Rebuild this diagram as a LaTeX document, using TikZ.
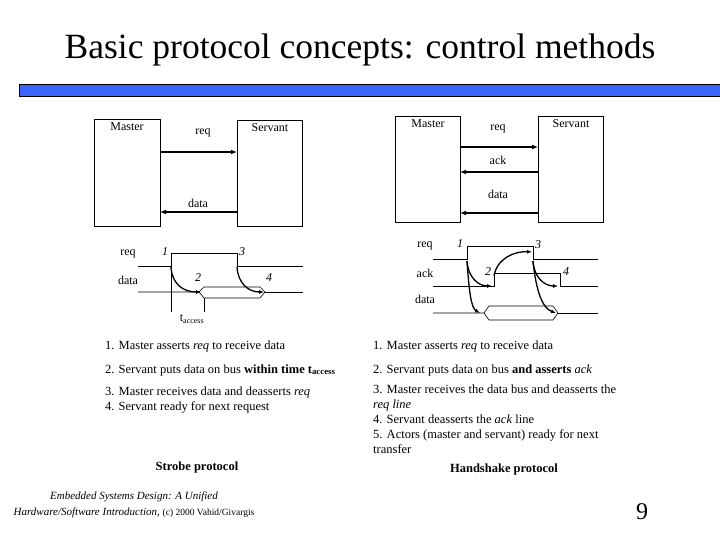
\documentclass[tikz,border=0pt]{standalone}
\usepackage{fontspec}
\setmainfont{Liberation Serif}
\usetikzlibrary{arrows.meta}
\begin{document}
\begin{tikzpicture}[x=1pt,y=-1pt,
  box/.style={draw,thick},
  lbl/.style={inner sep=0pt,font=\fontsize{12}{13}\selectfont},
  num/.style={inner sep=0pt,font=\fontsize{12}{13}\selectfont\itshape},
  sig/.style={draw,line width=0.6pt},
  bus/.style={draw,line width=1.6pt,-{Latex[length=6pt,width=5pt]}},
  carr/.style={draw,line width=1.3pt,-{Latex[length=5pt,width=4pt]}},
  txt/.style={anchor=west,inner sep=0pt,font=\fontsize{12.5}{14}\selectfont},
  ptxt/.style={anchor=north west,inner sep=0pt,align=left,font=\fontsize{12.5}{15}\selectfont}]
\useasboundingbox (0,0) rectangle (720,540);
\node[inner sep=0pt,font=\fontsize{35.5}{38}\selectfont] (title) at (360,50) {Basic protocol concepts: control methods};
\path[draw=black,fill={rgb,255:red,58;green,100;blue,250}] (19,84) rectangle (721,96);
% ---- left block diagram
\draw[box] (94,119) rectangle (160,226);
\draw[box] (237,120) rectangle (302,226);
\coordinate (lm1) at (160,152); \coordinate (ls1) at (237,152);
\coordinate (lm2) at (160,212); \coordinate (ls2) at (237,212);
\node[lbl] (lmaster) at (127,127) {Master};
\node[lbl] (lservant) at (270,128) {Servant};
\node[lbl] (lreq) at (203,133) {req};
\node[lbl] (ldata) at (198,203) {data};
\draw[bus] (lm1) -- (ls1);
\draw[bus] (ls2) -- (lm2);
% left timing
\node[lbl] (treq) at (128,254) {req};
\node[lbl] (tdata) at (128,280) {data};
\node[num] (n1) at (165,252) {1};
\node[num] (n3) at (242,252) {3};
\node[num] (n2) at (198,278) {2};
\node[num] (n4) at (269,278) {4};
\draw[sig] (138,266) -- (171,266) -- (171,253) -- (237,253) -- (237,266) -- (303,266);
\draw[sig] (138,292) -- (199,292) -- (204,287) -- (260,287) -- (265,292) -- (260,298) -- (204,298) -- (199,292);
\draw[sig] (265,292) -- (303,292);
\draw[sig] (171,253) -- (171,312) (204,298) -- (204,312);
\node[inner sep=0pt,font=\fontsize{12}{13}\selectfont] (tacc) at (192,319) {t\textsubscript{access}};
\coordinate (a1) at (171,267); \coordinate (a2) at (201,292);
\coordinate (a3) at (237,267); \coordinate (a4) at (264,292);
\draw[carr] (a1) .. controls (172,283) and (182,292) .. (a2);
\draw[carr] (a3) .. controls (238,283) and (248,292) .. (a4);
% ---- right block diagram
\draw[box] (395,116) rectangle (460,222);
\draw[box] (538,116) rectangle (603,222);
\coordinate (rm1) at (460,147); \coordinate (rs1) at (538,147);
\coordinate (rm2) at (460,172); \coordinate (rs2) at (538,172);
\coordinate (rm3) at (460,213); \coordinate (rs3) at (538,213);
\node[lbl] (rmaster) at (428,124) {Master};
\node[lbl] (rservant) at (571,124) {Servant};
\node[lbl] (rreq) at (498,129) {req};
\node[lbl] (rack) at (498,160) {ack};
\node[lbl] (rdata) at (498,194) {data};
\draw[bus] (rm1) -- (rs1);
\draw[bus] (rs2) -- (rm2);
\draw[bus] (rs3) -- (rm3);
% right timing
\node[lbl] (sreq) at (425,246) {req};
\node[lbl] (sack) at (425,273) {ack};
\node[lbl] (sdata) at (425,299) {data};
\node[num] (m1) at (460,244) {1};
\node[num] (m3) at (538,245) {3};
\node[num] (m2) at (488,272) {2};
\node[num] (m4) at (566,272) {4};
\draw[sig] (433,259) -- (467,259) -- (467,246) -- (533,246) -- (533,259) -- (598,259);
\draw[sig] (433,286) -- (494,286) -- (494,273) -- (560,273) -- (560,286) -- (598,286);
\draw[sig] (433,313) -- (484,313) -- (489,306) -- (553,306) -- (558,313) -- (553,320) -- (489,320) -- (484,313);
\draw[sig] (558,313) -- (598,313);
\coordinate (b1) at (467,261); \coordinate (b2) at (492,286);
\coordinate (b1d) at (480,313);
\coordinate (b2s) at (494,276); \coordinate (b3) at (532,252);
\coordinate (b3s) at (533,261); \coordinate (b4) at (558,286);
\coordinate (b3d) at (556,313);
\draw[carr] (b1) .. controls (468,277) and (478,286) .. (b2);
\draw[carr] (b1) .. controls (469,290) and (471,308) .. (b1d);
\draw[carr] (b2s) .. controls (497,258) and (515,251) .. (b3);
\draw[carr] (b3s) .. controls (534,277) and (544,286) .. (b4);
\draw[carr] (b3s) .. controls (536,290) and (542,308) .. (b3d);
% ---- texts
\node[txt] (l1) at (105,346) {1. Master asserts \textit{req} to receive data};
\node[txt] (l2) at (105,370) {2. Servant puts data on bus \textbf{within time t\textsubscript{access}}};
\node[txt] (l3) at (105,392) {3. Master receives data and deasserts \textit{req}};
\node[txt] (l4) at (105,407) {4. Servant ready for next request};
\node[txt] (r1) at (373,346) {1. Master asserts \textit{req} to receive data};
\node[txt] (r2) at (373,370) {2. Servant puts data on bus \textbf{and asserts} \textit{ack}};
\node[ptxt] (r3) at (373,385) {3. Master receives the data bus and deasserts the\\\textit{req line}\\4. Servant deasserts the \textit{ack} line\\5. Actors (master and servant) ready for next\\transfer};
\node[inner sep=0pt,font=\fontsize{12.5}{14}\selectfont\bfseries] (strobe) at (197,467) {Strobe protocol};
\node[inner sep=0pt,font=\fontsize{12.5}{14}\selectfont\bfseries] (hand) at (504,469) {Handshake protocol};
\node[inner sep=0pt,align=center,font=\fontsize{11}{16}\selectfont] (foot) at (134,505) {\textit{Embedded Systems Design: A Unified}\\\textit{Hardware/Software Introduction,} {\fontsize{9.5}{12}\selectfont (c) 2000 Vahid/Givargis}};
\node[inner sep=0pt,font=\fontsize{24}{26}\selectfont] (page) at (642,512) {9};
\end{tikzpicture}
\end{document}
